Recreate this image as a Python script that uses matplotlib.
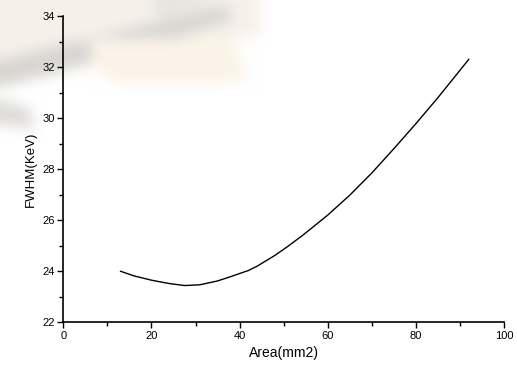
import matplotlib
matplotlib.use("Agg")
import matplotlib.pyplot as plt
import numpy as np
from matplotlib.path import Path
from matplotlib.ticker import MultipleLocator

plt.rcParams["font.family"] = ["Liberation Sans", "DejaVu Sans"]

# values
area = [13, 16, 20, 24, 27.5, 31, 35, 38, 42, 44, 48, 51, 54.4, 57, 60,
        65, 70, 75, 80, 85, 92]
fwhm = [24.0, 23.82, 23.65, 23.52, 23.44, 23.47, 23.62, 23.79, 24.03, 24.2,
        24.62, 24.98, 25.42, 25.78, 26.2, 26.98, 27.85, 28.8, 29.78, 30.8, 32.3]

W, H = 517, 367
fig = plt.figure(figsize=(W / 100, H / 100), dpi=100)

# faded background picture in the upper left (blurred raster)
step = 3
gx, gy = np.meshgrid(np.arange(0, W, step) + step / 2, np.arange(0, H, step) + step / 2)
pts = np.column_stack([gx.ravel(), gy.ravel()])
img = np.ones((gx.size, 3))
shapes = [
    ([(0, 0), (260, 0), (260, 35), (80, 60), (0, 70)], (0.965, 0.945, 0.915)),
    ([(0, 60), (90, 38), (225, 5), (235, 20), (100, 62), (0, 88)], (0.85, 0.84, 0.825)),
    ([(90, 40), (235, 40), (250, 82), (120, 85), (95, 70)], (0.985, 0.955, 0.91)),
    ([(0, 100), (30, 108), (35, 130), (0, 125)], (0.87, 0.865, 0.855)),
    ([(150, 0), (215, 0), (160, 18)], (0.91, 0.9, 0.885)),
]
for poly, col in shapes:
    inside = Path(poly).contains_points(pts)
    img[inside] = col
img = img.reshape(gx.shape + (3,))
kernel = np.ones(5) / 5
for _ in range(2):
    img = np.apply_along_axis(lambda r: np.convolve(np.pad(r, 2, mode="edge"), kernel, "valid"), 0, img)
    img = np.apply_along_axis(lambda r: np.convolve(np.pad(r, 2, mode="edge"), kernel, "valid"), 1, img)
bg = fig.add_axes([0, 0, 1, 1], zorder=-1)
bg.imshow(img, extent=(0, W, H, 0), interpolation="bilinear", aspect="auto")
bg.set_xlim(0, W)
bg.set_ylim(H, 0)
bg.axis("off")

ax = fig.add_axes([63.3 / W, 1 - 322.3 / H, (504 - 63.3) / W, (322.3 - 16) / H])
ax.patch.set_alpha(0)
ax.plot(area, fwhm, color="black", linewidth=1.0)

ax.set_xlim(0, 100)
ax.set_ylim(22, 34)
ax.xaxis.set_major_locator(MultipleLocator(20))
ax.xaxis.set_minor_locator(MultipleLocator(10))
ax.yaxis.set_major_locator(MultipleLocator(2))
ax.yaxis.set_minor_locator(MultipleLocator(1))

for s in ["top", "right"]:
    ax.spines[s].set_visible(False)
for s in ["left", "bottom"]:
    ax.spines[s].set_linewidth(1.2)

ax.tick_params(which="major", direction="out", length=4, width=1, labelsize=8, pad=2)
ax.tick_params(which="minor", direction="out", length=3, width=1)

ax.set_xlabel("Area(mm2)", fontsize=10, labelpad=4)
ax.set_ylabel("FWHM(KeV)", fontsize=9.5, labelpad=4)

fig.savefig("out.png", dpi=100)
